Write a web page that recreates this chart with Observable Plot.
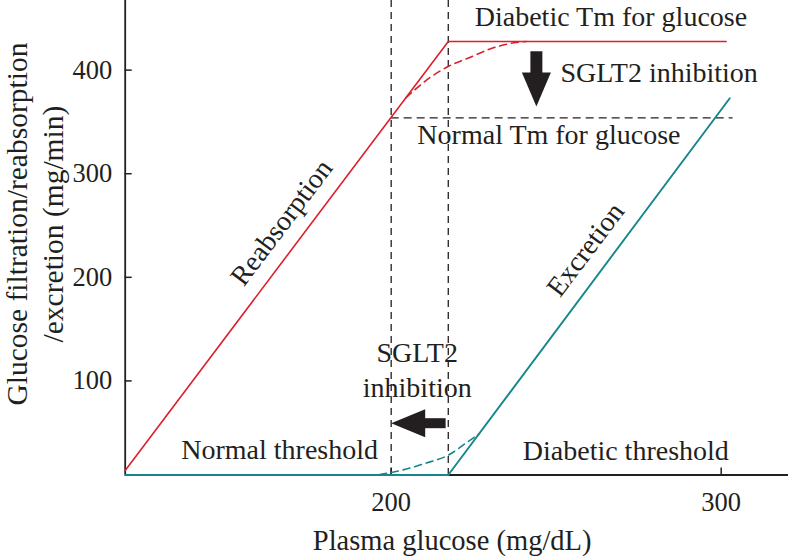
<!DOCTYPE html>
<html>
<head>
<meta charset="utf-8">
<script src="https://cdn.jsdelivr.net/npm/d3@7"></script>
<script src="https://cdn.jsdelivr.net/npm/@observablehq/plot@0.6"></script>
<style>
  html, body { margin: 0; padding: 0; background: #fff; }
  #chart svg { display: block; }
</style>
</head>
<body>
<div id="chart"></div>
<script>
// ---- Data ----
const xTicks = [200, 300];
const yTicks = [100, 200, 300, 400];

// Reabsorption (red, solid)
const reabsX = [119.4, 217.3, 301.5];
const reabsY = [13.5, 427.6, 427.6];
// Reabsorption with SGLT2 inhibition (red, dashed)
const reabsDashX = [204.5, 211.9, 217.3, 224.0, 230.1, 237.2, 241.0];
const reabsDashY = [373.5, 393.1, 403.5, 412.5, 420.6, 426.4, 427.6];
// Excretion (teal, solid)
const excrX = [119.4, 217.3, 302.6];
const excrY = [9.2, 9.2, 372.9];
// Excretion with SGLT2 inhibition (teal, dashed)
const excrDashX = [196.5, 202.8, 209.9, 217.5, 223.0, 226.8];
const excrDashY = [9.6, 13.5, 20.0, 28.7, 40.8, 49.3];

// Thresholds (vertical dashed) and normal Tm (horizontal dashed)
const thresholds = [200, 217.3];
const normalTm = 354;
const normalTmRange = [200, 303.6];

// Arrows: [shaft start, shaft end (head base), tip]
const downArrowX = 244.0;
const downArrowY = [418.2, 396.5, 364.9];
const leftArrowY = 59.2;
const leftArrowX = [216.5, 209.5, 200.0];

// Annotation labels
const labelText = ["Diabetic Tm for glucose", "SGLT2 inhibition", "Normal Tm for glucose",
  "Reabsorption", "Excretion", "SGLT2", "inhibition", "Normal threshold", "Diabetic threshold"];
const labelX = [266.6, 251.3, 247.8, 166.8, 258.9, 207.9, 207.9, 166.2, 271.1];
const labelY = [451.7, 397.0, 337.6, 252.9, 226.8, 126.7, 92.9, 33.5, 31.9];
const labelRotate = [0, 0, 0, -53, -53, 0, 0, 0, 0];
const labelAnchor = ["middle", "start", "middle", "middle", "middle", "middle", "middle", "middle", "middle"];

const xTitle = "Plasma glucose (mg/dL)";
const yTitle = "Glucose filtration/reabsorption\n/excretion (mg/min)";

// ---- Build tables ----
const zip = (xs, ys) => xs.map((x, i) => ({x, y: ys[i]}));
const labels = labelText.map((t, i) => ({text: t, x: labelX[i], y: labelY[i], rotate: labelRotate[i], anchor: labelAnchor[i]}));

const RED = "#dc1f2b";
const TEAL = "#15878a";
const INK = "#231f20";
const FONT = "'Liberation Serif', 'DejaVu Serif', serif";

const W = 788, H = 559;
const mL = 124.7, mR = 0, mT = 0, mB = 84.5;
const plotW = W - mL - mR, plotH = H - mT - mB;

const headDown = {draw(ctx) { ctx.moveTo(0, 0); ctx.lineTo(-14.5, -34); ctx.lineTo(14.5, -34); ctx.closePath(); }};
const headLeft = {draw(ctx) { ctx.moveTo(0, 0); ctx.lineTo(34, -14); ctx.lineTo(34, 14); ctx.closePath(); }};

const chart = Plot.plot({
  width: W, height: H,
  marginLeft: mL, marginRight: mR, marginTop: mT, marginBottom: mB,
  x: {domain: [119.4, 320.4], label: null},
  y: {domain: [9.2, 467.2], label: null},
  style: {fontFamily: FONT, color: INK, background: "#fff"},
  marks: [
    // vertical threshold lines
    Plot.ruleX(thresholds, {x: d => d, stroke: INK, strokeWidth: 1.3, strokeDasharray: "7,5"}),
    // normal Tm
    Plot.ruleY([normalTm], {y: d => d, x1: normalTmRange[0], x2: normalTmRange[1], stroke: INK, strokeWidth: 1.3, strokeDasharray: "8,5"}),
    // axes lines
    Plot.ruleX([119.4], {x: d => d, stroke: INK, strokeWidth: 1.8}),
    Plot.ruleY([9.2], {y: d => d, stroke: INK, strokeWidth: 1.8}),
    // inward ticks
    Plot.tickY(yTicks, {y: d => d, insetRight: plotW - 7, stroke: INK, strokeWidth: 1.5}),
    Plot.tickX(xTicks, {x: d => d, insetTop: plotH - 7, stroke: INK, strokeWidth: 1.5}),
    // tick labels
    Plot.axisY(yTicks, {tickSize: 0, tickPadding: 13, fontSize: 26.5, label: null, fill: INK}),
    Plot.axisX(xTicks, {tickSize: 0, tickPadding: 17, fontSize: 26.5, label: null, fill: INK}),
    // curves
    Plot.line(zip(reabsDashX, reabsDashY), {x: "x", y: "y", stroke: RED, strokeWidth: 1.6, strokeDasharray: "7,5", curve: "monotone-x"}),
    Plot.line(zip(excrDashX, excrDashY), {x: "x", y: "y", stroke: TEAL, strokeWidth: 1.6, strokeDasharray: "7,5", curve: "monotone-x"}),
    Plot.line(zip(reabsX, reabsY), {x: "x", y: "y", stroke: RED, strokeWidth: 1.6}),
    Plot.line(zip(excrX, excrY), {x: "x", y: "y", stroke: TEAL, strokeWidth: 1.9}),
    // arrows
    Plot.link([0], {x1: downArrowX, x2: downArrowX, y1: downArrowY[0], y2: downArrowY[1], stroke: INK, strokeWidth: 12}),
    Plot.dot([0], {x: downArrowX, y: downArrowY[2], symbol: headDown, fill: INK, stroke: "none"}),
    Plot.link([0], {x1: leftArrowX[0], x2: leftArrowX[1], y1: leftArrowY, y2: leftArrowY, stroke: INK, strokeWidth: 10}),
    Plot.dot([0], {x: leftArrowX[2], y: leftArrowY, symbol: headLeft, fill: INK, stroke: "none"}),
    // annotations
    Plot.text(labels.filter(d => d.anchor === "middle"), {x: "x", y: "y", text: "text", rotate: "rotate", fontSize: 28, fill: INK, textAnchor: "middle"}),
    Plot.text(labels.filter(d => d.anchor === "start"), {x: "x", y: "y", text: "text", rotate: "rotate", fontSize: 28, fill: INK, textAnchor: "start"}),
    // axis titles
    Plot.text([xTitle], {frameAnchor: "bottom", text: d => d, fontSize: 28.5, fill: INK, textAnchor: "middle", lineAnchor: "middle", dx: -4.7, dy: 66}),
    Plot.text([yTitle], {frameAnchor: "left", text: d => d, fontSize: 29.5, fill: INK, rotate: -90, textAnchor: "middle", lineAnchor: "middle", lineHeight: 1.2, dx: -91.5, dy: -13.7})
  ]
});
document.getElementById("chart").appendChild(chart);
</script>
</body>
</html>
